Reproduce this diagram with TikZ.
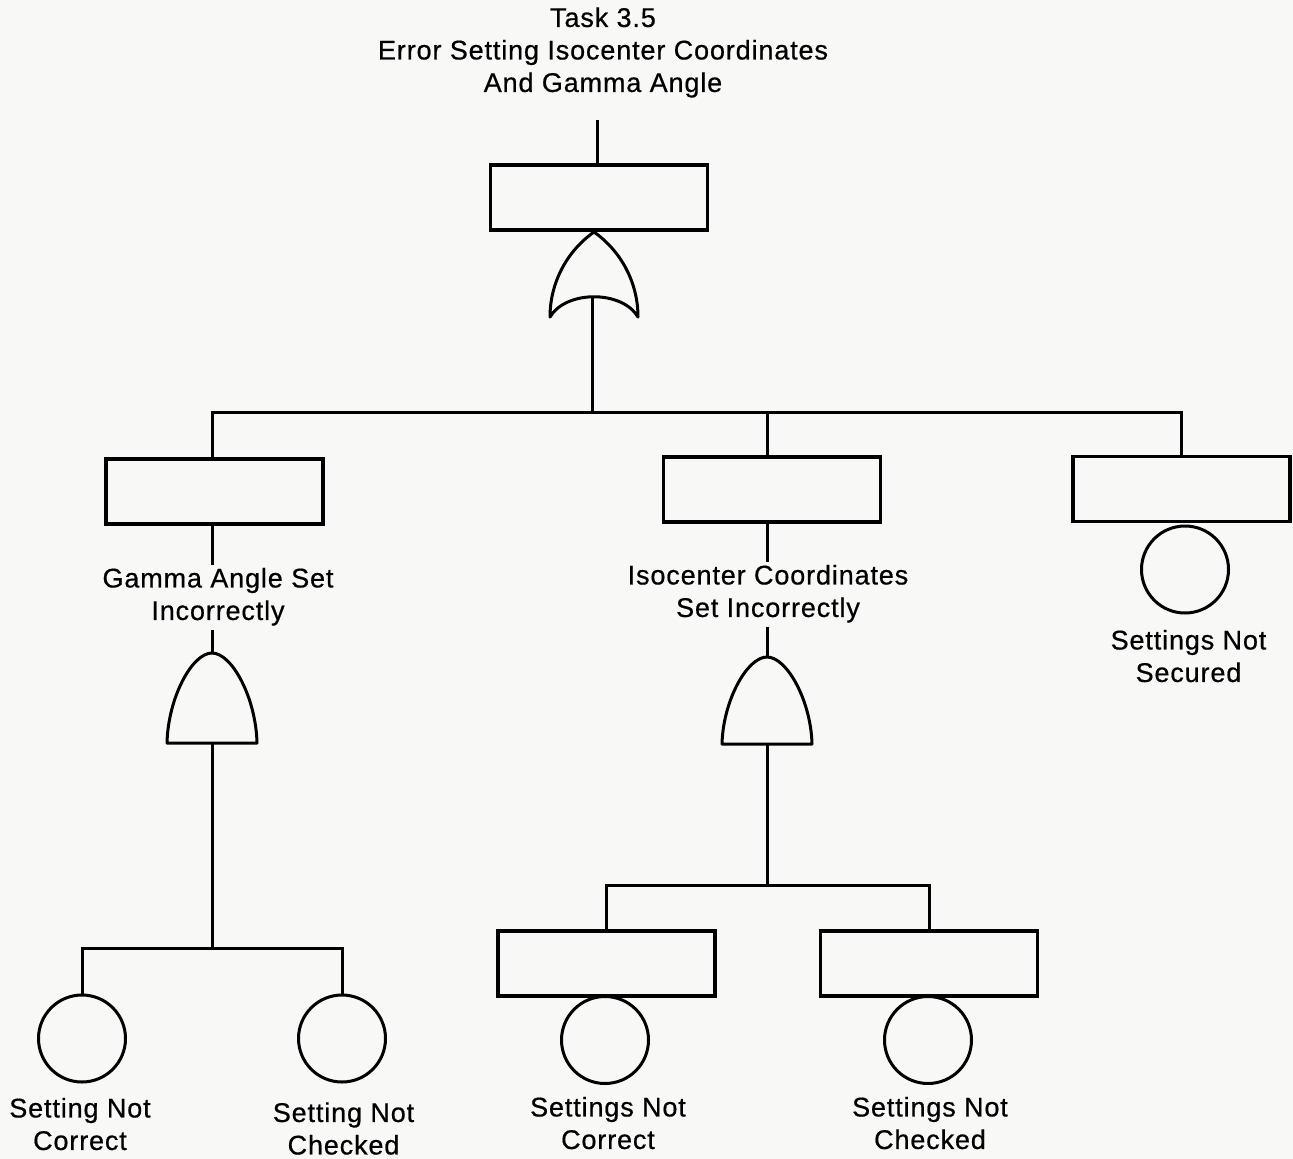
\documentclass[tikz,border=0pt]{standalone}
\usepackage{fontspec}
\setmainfont{Liberation Sans}[LetterSpace=3.5]
\newfontfamily\lblfamily{Liberation Sans}[LetterSpace=3.2, FakeBold=0.6]
\newcommand\lblfont{\lblfamily\fontsize{27}{32.5}\selectfont}
\definecolor{paper}{RGB}{248,248,247}
\begin{document}
\begin{tikzpicture}[x=1pt,y=-1pt,
  evbox/.style={draw, line width=3.4pt, minimum width=217pt, minimum height=65pt, inner sep=0pt},
  basic/.style={circle, draw, line width=3pt, minimum size=87pt, inner sep=0pt},
  gate/.style={draw, line width=3pt, line join=round},
  wire/.style={line width=3pt},
  lbl/.style={font=\lblfont, align=center, inner sep=0pt, anchor=north}]

\fill[paper] (0,0) rectangle (1293,1159);
\useasboundingbox (0,0) rectangle (1293,1159);

% intermediate events
\node[evbox] (top) at (599,197.5) {};
\node[evbox] (b1) at (214.5,491.5) {};
\node[evbox] (b2) at (772,489.5) {};
\node[evbox] (b5) at (1181.5,489) {};
\node[evbox] (b3) at (606.5,963.5) {};
\node[evbox] (b4) at (929,963.5) {};

% basic events
\node[basic] (c5) at (1185,569.5) {};
\node[basic] (c1) at (82,1038.5) {};
\node[basic] (c2) at (342,1038.5) {};
\node[basic] (c3) at (605,1040) {};
\node[basic] (c4) at (928,1040) {};

% gate anchor points
\coordinate (orApex) at (594,232);
\coordinate (orOut) at (592,296.5);
\coordinate (and1Apex) at (212,653);
\coordinate (and1Out) at (212,743);
\coordinate (and2Apex) at (767,657);
\coordinate (and2Out) at (767,744);

% OR gate
\begin{scope}[shift={(594,232)}]
  \draw[gate] (-44,85) .. controls (-44,51.2) and (-27.6,19.5) .. (0,0)
    .. controls (27.6,19.5) and (44,51.2) .. (44,85)
    .. controls (28,58) and (-28,58) .. cycle;
\end{scope}

% AND gates
\begin{scope}[shift={(212,653)}]
  \draw[gate] (-45,90) .. controls (-44,45) and (-20,0) .. (0,0)
    .. controls (20,0) and (44,45) .. (45,90) -- cycle;
\end{scope}
\begin{scope}[shift={(767,657)}]
  \draw[gate] (-45,87) .. controls (-44,44) and (-20,0) .. (0,0)
    .. controls (20,0) and (44,44) .. (45,87) -- cycle;
\end{scope}

% labels
\node[lbl] (title) at (603,4) {\strut Task 3.5\\\strut Error Setting Isocenter Coordinates\\\strut And Gamma Angle};
\node[lbl] (l1) at (218,564.5) {\strut Gamma Angle Set\\\strut Incorrectly};
\node[lbl] (l2) at (768,561.5) {\strut Isocenter Coordinates\\\strut Set Incorrectly};
\node[lbl] (l5) at (1188.5,626.5) {\strut Settings Not\\\strut Secured};
\node[lbl] (t1) at (80,1094.5) {\strut Setting Not\\\strut Correct};
\node[lbl] (t2) at (343.5,1099) {\strut Setting Not\\\strut Checked};
\node[lbl] (t3) at (608,1093.5) {\strut Settings Not\\\strut Correct};
\node[lbl] (t4) at (930,1093.5) {\strut Settings Not\\\strut Checked};

% connectors
\coordinate (topEnd) at (597,120);
\coordinate (bus1) at (0,412);
\coordinate (bus2) at (0,948);
\coordinate (bus3) at (0,885);

\draw[wire] (top.north -| topEnd) -- (topEnd);
\draw[wire] (orOut) -- (orOut |- bus1);
\draw[wire] (b1.north -| and1Apex) |- (bus1 -| b5.north) -- (b5.north);
\draw[wire] (b2.north -| and2Apex) -- (bus1 -| and2Apex);

\draw[wire] (b1.south -| and1Apex) -- (l1.north -| and1Apex);
\draw[wire] (l1.south -| and1Apex) -- (and1Apex);
\draw[wire] (b2.south -| and2Apex) -- (l2.north -| and2Apex);
\draw[wire] (l2.south -| and2Apex) -- (and2Apex);

\draw[wire] (and1Out) -- (and1Out |- bus2);
\draw[wire] (c1.north) |- (bus2 -| c2.north) -- (c2.north);
\draw[wire] (and2Out) -- (and2Out |- bus3);
\draw[wire] (b3.north) |- (bus3 -| b4.north) -- (b4.north);
\end{tikzpicture}
\end{document}
